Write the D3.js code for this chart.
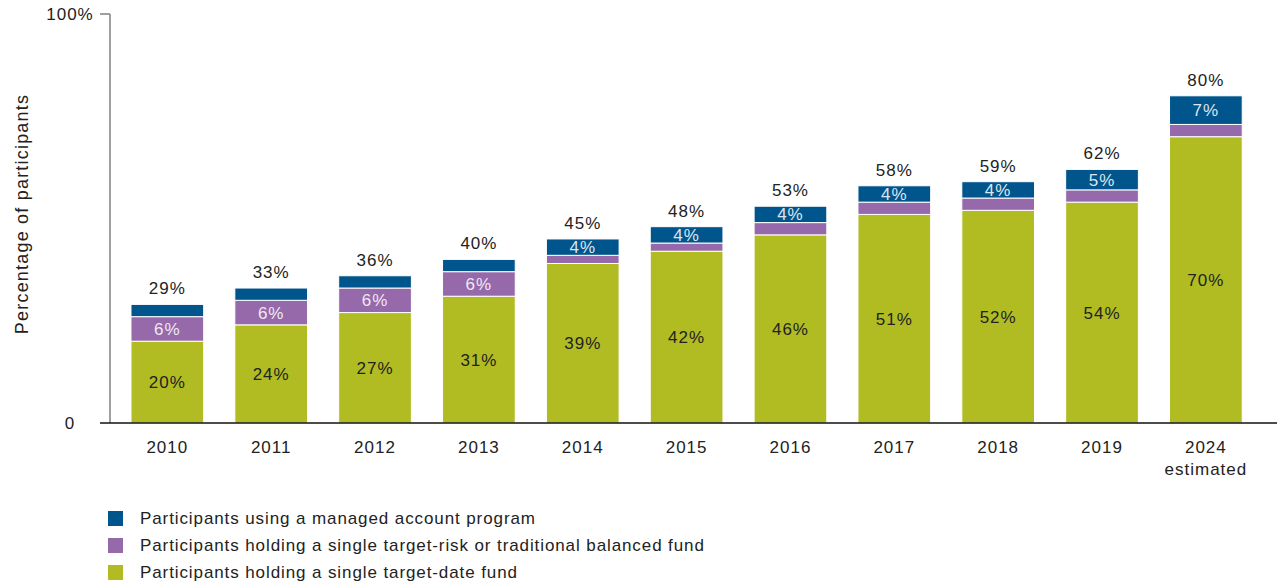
<!DOCTYPE html>
<html>
<head>
<meta charset="utf-8">
<script src="https://cdn.jsdelivr.net/npm/d3@7"></script>
<style>
  body { margin: 0; background: #fff; }
  text { font-family: "Liberation Sans", Arial, sans-serif; fill: #222; letter-spacing: 1px; }
</style>
</head>
<body>
<svg id="chart" width="1277" height="585"></svg>
<script>
// data
let years = ["2010","2011","2012","2013","2014","2015","2016","2017","2018","2019","2024"];
let targetDate = [20, 24, 27, 31, 39, 42, 46, 51, 52, 54, 70];
let targetRisk = [6, 6, 6, 6, 2, 2, 3, 3, 3, 3, 3];
let managed = [3, 3, 3, 3, 4, 4, 4, 4, 4, 5, 7];
let totals = [29, 33, 36, 40, 45, 48, 53, 58, 59, 62, 80];
let showRisk = [true, true, true, true, false, false, false, false, false, false, false];
let showManaged = [false, false, false, false, true, true, true, true, true, true, true];
let legendLabels = [
  "Participants using a managed account program",
  "Participants holding a single target-risk or traditional balanced fund",
  "Participants holding a single target-date fund"
];
let colors = ["#00558c", "#9669aa", "#b0bc22"];

let svg = d3.select("#chart");

let x = d3.scaleBand()
  .domain(years)
  .range([115.4, 1257.8])
  .paddingInner(0.3)
  .paddingOuter(0.15);

let y = d3.scaleLinear().domain([0, 100]).range([423, 14]);

let rows = years.map(function(yr, i) {
  return { year: yr, td: targetDate[i], tr: targetRisk[i], ma: managed[i], total: totals[i], i: i };
});

let stack = d3.stack().keys(["td", "tr", "ma"]);
let series = stack(rows);
let segColor = { td: colors[2], tr: colors[1], ma: colors[0] };

// y axis line + top tick
svg.append("line")
  .attr("x1", 110).attr("x2", 110)
  .attr("y1", y(100)).attr("y2", y(0))
  .style("stroke", "#808080").style("stroke-width", 1.5);
svg.append("line")
  .attr("x1", 100).attr("x2", 110)
  .attr("y1", y(100)).attr("y2", y(100))
  .style("stroke", "#808080").style("stroke-width", 1.5);

svg.selectAll("text.ytick")
  .data([{ v: 100, t: "100%" }, { v: 0, t: "0" }])
  .enter().append("text")
  .attr("class", "ytick")
  .attr("x", 70)
  .attr("y", function(d) { return y(d.v); })
  .attr("dy", "0.35em")
  .attr("text-anchor", "middle")
  .style("font-size", "17px")
  .text(function(d) { return d.t; });

svg.append("text")
  .attr("transform", "translate(28," + 214 + ") rotate(-90)")
  .attr("text-anchor", "middle")
  .style("font-size", "18px")
  .style("letter-spacing", "1.2px")
  .text("Percentage of participants");

// bars
let groups = svg.selectAll("g.series")
  .data(series)
  .enter().append("g")
  .attr("class", "series")
  .style("fill", function(s) { return segColor[s.key]; });

groups.selectAll("rect")
  .data(function(s) { return s; })
  .enter().append("rect")
  .attr("x", function(d) { return x(d.data.year); })
  .attr("width", x.bandwidth())
  .attr("y", function(d) { return y(d[1]); })
  .attr("height", function(d) { return y(d[0]) - y(d[1]); })
  .style("stroke", "#fff")
  .style("stroke-width", 1);

// baseline
svg.append("line")
  .attr("x1", 100).attr("x2", 1277)
  .attr("y1", y(0)).attr("y2", y(0))
  .style("stroke", "#111").style("stroke-width", 1.5);

let cx = function(d) { return x(d.year) + x.bandwidth() / 2; };

// green labels
svg.selectAll("text.td")
  .data(rows)
  .enter().append("text")
  .attr("class", "td")
  .attr("x", cx)
  .attr("y", function(d) { return y(d.td / 2); })
  .attr("dy", "0.35em")
  .attr("text-anchor", "middle")
  .style("font-size", "17px")
  .text(function(d) { return d.td + "%"; });

// purple labels
svg.selectAll("text.tr")
  .data(rows.filter(function(d) { return showRisk[d.i]; }))
  .enter().append("text")
  .attr("class", "tr")
  .attr("x", cx)
  .attr("y", function(d) { return y(d.td + d.tr / 2); })
  .attr("dy", "0.35em")
  .attr("text-anchor", "middle")
  .style("font-size", "17px")
  .style("fill", "#eee8f2")
  .text(function(d) { return d.tr + "%"; });

// blue labels
svg.selectAll("text.ma")
  .data(rows.filter(function(d) { return showManaged[d.i]; }))
  .enter().append("text")
  .attr("class", "ma")
  .attr("x", cx)
  .attr("y", function(d) { return y(d.td + d.tr + d.ma / 2); })
  .attr("dy", "0.35em")
  .attr("text-anchor", "middle")
  .style("font-size", "17px")
  .style("fill", "#dde6ee")
  .text(function(d) { return d.ma + "%"; });

// totals
svg.selectAll("text.total")
  .data(rows)
  .enter().append("text")
  .attr("class", "total")
  .attr("x", cx)
  .attr("y", function(d) { return y(d.total) - 10; })
  .attr("text-anchor", "middle")
  .style("font-size", "17px")
  .text(function(d) { return d.total + "%"; });

// x labels
svg.selectAll("text.xlab")
  .data(rows)
  .enter().append("text")
  .attr("class", "xlab")
  .attr("x", cx)
  .attr("y", 453)
  .attr("text-anchor", "middle")
  .style("font-size", "17px")
  .text(function(d) { return d.year; });
svg.append("text")
  .attr("x", x("2024") + x.bandwidth() / 2)
  .attr("y", 475)
  .attr("text-anchor", "middle")
  .style("font-size", "17px")
  .text("estimated");

// legend
let legend = svg.selectAll("g.legendEntry")
  .data(legendLabels)
  .enter().append("g")
  .attr("class", "legendEntry");

legend.append("rect")
  .attr("x", 108)
  .attr("y", function(d, i) { return 511 + i * 27; })
  .attr("width", 15).attr("height", 15)
  .style("fill", function(d, i) { return colors[i]; });

legend.append("text")
  .attr("x", 140)
  .attr("y", function(d, i) { return 518 + i * 27; })
  .attr("dy", "0.35em")
  .style("font-size", "17px")
  .style("letter-spacing", "0.9px")
  .text(function(d) { return d; });
</script>
</body>
</html>
